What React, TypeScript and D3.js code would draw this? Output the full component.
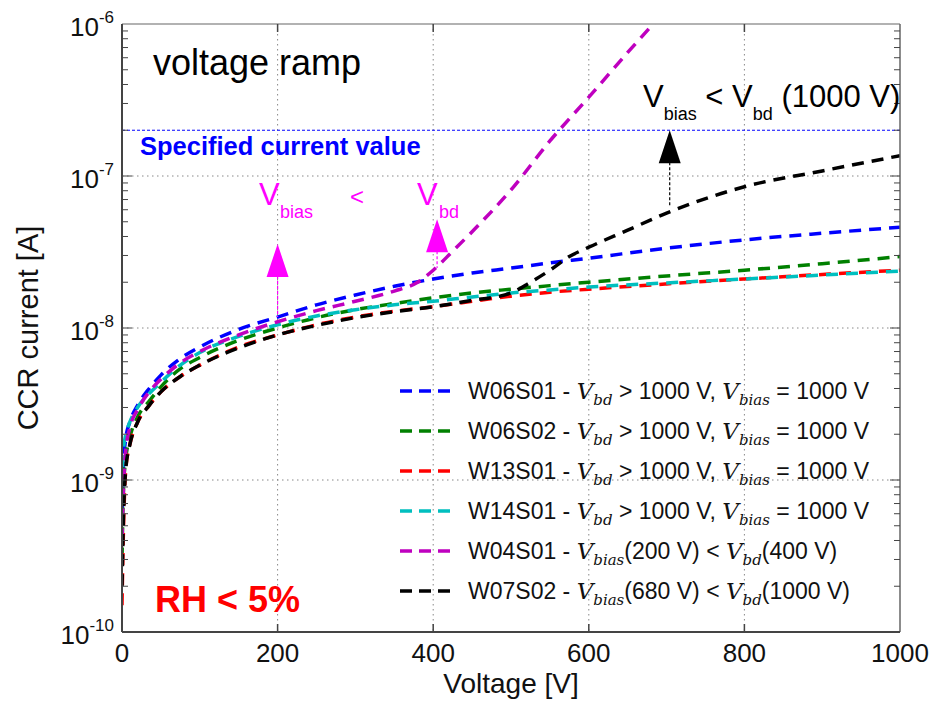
import React, { useEffect, useRef } from "react";
import * as d3 from "d3";

// voltage grid shared by the four "no breakdown" samples
const voltage = [0, 2, 5, 10, 20, 35, 50, 75, 100, 150, 200, 250, 300, 350, 400, 450, 500, 550, 600, 700, 800, 900, 1000];

const w06s01 = [6e-10, 1.3e-9, 1.9e-9, 2.4e-9, 3.1e-9, 4.0e-9, 4.9e-9, 6.3e-9, 7.5e-9, 9.8e-9, 1.18e-8, 1.42e-8, 1.65e-8, 1.88e-8, 2.1e-8, 2.3e-8, 2.48e-8, 2.68e-8, 2.88e-8, 3.35e-8, 3.8e-8, 4.2e-8, 4.6e-8];
const w06s02 = [3e-10, 9e-10, 1.4e-9, 1.9e-9, 2.6e-9, 3.3e-9, 4.1e-9, 5.4e-9, 6.4e-9, 8.3e-9, 1.0e-8, 1.17e-8, 1.32e-8, 1.45e-8, 1.58e-8, 1.7e-8, 1.8e-8, 1.9e-8, 2.0e-8, 2.2e-8, 2.4e-8, 2.65e-8, 2.95e-8];
const w13s01 = [1.5e-10, 5e-10, 1.2e-9, 1.7e-9, 2.4e-9, 3.1e-9, 3.8e-9, 4.8e-9, 5.7e-9, 7.5e-9, 9.0e-9, 1.05e-8, 1.18e-8, 1.29e-8, 1.38e-8, 1.5e-8, 1.62e-8, 1.72e-8, 1.8e-8, 1.95e-8, 2.1e-8, 2.25e-8, 2.4e-8];
const w14s01 = [9e-10, 1.6e-9, 2.0e-9, 2.4e-9, 3.0e-9, 3.7e-9, 4.4e-9, 5.7e-9, 6.9e-9, 8.8e-9, 1.05e-8, 1.2e-8, 1.32e-8, 1.42e-8, 1.5e-8, 1.6e-8, 1.7e-8, 1.78e-8, 1.86e-8, 1.98e-8, 2.1e-8, 2.23e-8, 2.37e-8];

const voltageW04S01 = [0, 2, 5, 10, 20, 35, 50, 75, 100, 150, 200, 250, 300, 350, 380, 400, 425, 450, 500, 550, 600, 650, 700];
const w04s01 = [4e-10, 9e-10, 1.6e-9, 2.2e-9, 2.9e-9, 3.8e-9, 4.6e-9, 5.9e-9, 7.0e-9, 9.0e-9, 1.1e-8, 1.3e-8, 1.5e-8, 1.75e-8, 2.0e-8, 2.4e-8, 3.2e-8, 4.3e-8, 8.1e-8, 1.7e-7, 3.3e-7, 6.5e-7, 1.25e-6];

const voltageW07S02 = [0, 2, 5, 10, 20, 35, 50, 75, 100, 150, 200, 250, 300, 350, 400, 450, 500, 525, 550, 575, 600, 650, 700, 800, 900, 1000];
const w07s02 = [2e-10, 6e-10, 1.2e-9, 1.7e-9, 2.4e-9, 3.1e-9, 3.8e-9, 4.8e-9, 5.7e-9, 7.4e-9, 9.0e-9, 1.04e-8, 1.17e-8, 1.28e-8, 1.38e-8, 1.52e-8, 1.7e-8, 2.0e-8, 2.4e-8, 2.95e-8, 3.4e-8, 4.4e-8, 5.7e-8, 8.5e-8, 1.08e-7, 1.36e-7];

const xTicks = [0, 200, 400, 600, 800, 1000];
const yExponents = [-6, -7, -8, -9, -10];
const specifiedCurrent = 2e-7;

// legend pieces: [text, kind] kind: n = normal, v = math V, s = subscript
const legendRows = [
  { name: "W06S01", color: "#0000ff", parts: [["W06S01 - ", "n"], ["V", "v"], ["bd", "s"], [" > 1000 V, ", "n"], ["V", "v"], ["bias", "s"], [" = 1000 V", "n"]] },
  { name: "W06S02", color: "#008000", parts: [["W06S02 - ", "n"], ["V", "v"], ["bd", "s"], [" > 1000 V, ", "n"], ["V", "v"], ["bias", "s"], [" = 1000 V", "n"]] },
  { name: "W13S01", color: "#ff0000", parts: [["W13S01 - ", "n"], ["V", "v"], ["bd", "s"], [" > 1000 V, ", "n"], ["V", "v"], ["bias", "s"], [" = 1000 V", "n"]] },
  { name: "W14S01", color: "#00bfbf", parts: [["W14S01 - ", "n"], ["V", "v"], ["bd", "s"], [" > 1000 V, ", "n"], ["V", "v"], ["bias", "s"], [" = 1000 V", "n"]] },
  { name: "W04S01", color: "#bf00bf", parts: [["W04S01 - ", "n"], ["V", "v"], ["bias", "s"], ["(200 V) < ", "n"], ["V", "v"], ["bd", "s"], ["(400 V)", "n"]] },
  { name: "W07S02", color: "#000000", parts: [["W07S02 - ", "n"], ["V", "v"], ["bias", "s"], ["(680 V) < ", "n"], ["V", "v"], ["bd", "s"], ["(1000 V)", "n"]] },
];

const seriesData = [
  { v: voltage, i: w06s01, color: "#0000ff" },
  { v: voltage, i: w06s02, color: "#008000" },
  { v: voltage, i: w13s01, color: "#ff0000" },
  { v: voltage, i: w14s01, color: "#00bfbf" },
  { v: voltageW04S01, i: w04s01, color: "#bf00bf" },
  { v: voltageW07S02, i: w07s02, color: "#000000" },
];

// arrows: voltage, current at tip, current where the dashed stem ends
const arrows = [
  { v: 200, tip: 3.57e-8, stemEnd: 1.18e-8, color: "#ff00ff" },
  { v: 405, tip: 5.2e-8, stemEnd: 2.48e-8, color: "#ff00ff" },
  { v: 704, tip: 2e-7, stemEnd: 6.25e-8, color: "#000000" },
];

const FONT = "'Liberation Sans', Arial, Helvetica, sans-serif";
const MATH = "'DejaVu Serif', 'Liberation Serif', serif";

function App() {
  const ref = useRef<SVGSVGElement | null>(null);

  useEffect(() => {
    drawChart();
  }, []);

  const drawChart = () => {
    const W = 933, H = 702;
    const left = 122, right = 900, top = 24, bottom = 632;

    const svg = d3.select(ref.current);
    svg.selectAll("*").remove();

    const x = d3.scaleLinear().domain([0, 1000]).range([left, right]);
    const y = d3.scaleLog().domain([1e-10, 1e-6]).range([bottom, top]);

    svg.append("rect").attr("width", W).attr("height", H).attr("fill", "#fff");

    svg.append("clipPath").attr("id", "plotclip")
      .append("rect").attr("x", left).attr("y", top).attr("width", right - left).attr("height", bottom - top);

    // grid
    const grid = svg.append("g").attr("stroke", "#888").attr("stroke-width", 1).attr("stroke-dasharray", "1.5,3.5");
    xTicks.slice(1, -1).forEach((t) => {
      grid.append("line").attr("x1", x(t)).attr("x2", x(t)).attr("y1", top).attr("y2", bottom);
    });
    yExponents.slice(1, -1).forEach((e) => {
      grid.append("line").attr("x1", left).attr("x2", right).attr("y1", y(Math.pow(10, e))).attr("y2", y(Math.pow(10, e)));
    });

    // specified current line
    svg.append("line")
      .attr("x1", left).attr("x2", right)
      .attr("y1", y(specifiedCurrent)).attr("y2", y(specifiedCurrent))
      .attr("stroke", "#0000ff").attr("stroke-width", 1).attr("stroke-dasharray", "3,2");

    // curves
    const line = d3.line<[number, number]>()
      .x((d) => x(d[0]))
      .y((d) => y(d[1]))
      .curve(d3.curveMonotoneX);

    const curves = svg.append("g").attr("clip-path", "url(#plotclip)");
    seriesData.forEach((s) => {
      const pts = s.v.map((v, k) => [v, s.i[k]] as [number, number]);
      curves.append("path")
        .attr("d", line(pts))
        .attr("fill", "none")
        .attr("stroke", s.color)
        .attr("stroke-width", 3.5)
        .attr("stroke-dasharray", "12,8");
    });

    // arrows
    arrows.forEach((a) => {
      const ax = x(a.v);
      const ty = y(a.tip);
      svg.append("line")
        .attr("x1", ax).attr("x2", ax)
        .attr("y1", ty + 32).attr("y2", y(a.stemEnd))
        .attr("stroke", a.color).attr("stroke-width", 1.2).attr("stroke-dasharray", "3,2");
      svg.append("path")
        .attr("d", `M${ax},${ty} L${ax - 11},${ty + 33} L${ax + 11},${ty + 33} Z`)
        .attr("fill", a.color);
    });

    // frame & ticks
    const axis = svg.append("g").attr("stroke", "#444").attr("stroke-width", 1.5);
    axis.append("line").attr("x1", left).attr("x2", right).attr("y1", top).attr("y2", top).attr("stroke", "#999");
    axis.append("line").attr("x1", right).attr("x2", right).attr("y1", top).attr("y2", bottom).attr("stroke", "#666");
    axis.append("line").attr("x1", left).attr("x2", left).attr("y1", top).attr("y2", bottom).attr("stroke-width", 2);
    axis.append("line").attr("x1", left).attr("x2", right).attr("y1", bottom).attr("y2", bottom).attr("stroke-width", 2);
    xTicks.slice(1, -1).forEach((t) => {
      axis.append("line").attr("x1", x(t)).attr("x2", x(t)).attr("y1", bottom).attr("y2", bottom - 8);
      axis.append("line").attr("x1", x(t)).attr("x2", x(t)).attr("y1", top).attr("y2", top + 8);
    });
    for (let e = -10; e < -6; e++) {
      for (let m = 1; m < 10; m++) {
        const v = m * Math.pow(10, e);
        const len = m === 1 ? 10 : 6;
        axis.append("line").attr("x1", left).attr("x2", left + len).attr("y1", y(v)).attr("y2", y(v)).attr("stroke-width", 1);
        axis.append("line").attr("x1", right).attr("x2", right - len).attr("y1", y(v)).attr("y2", y(v)).attr("stroke-width", 1);
      }
    }

    // tick labels
    xTicks.forEach((t) => {
      svg.append("text").attr("x", x(t)).attr("y", 662)
        .attr("text-anchor", "middle").attr("font-family", FONT).attr("font-size", 26).attr("fill", "#111")
        .text(t);
    });
    yExponents.forEach((e) => {
      const t = svg.append("text").attr("x", 114).attr("y", y(Math.pow(10, e)) + 12)
        .attr("text-anchor", "end").attr("font-family", FONT).attr("font-size", 26).attr("fill", "#111");
      t.append("tspan").text("10");
      t.append("tspan").attr("dy", -13).attr("font-size", 17).text(String(e));
    });

    // axis titles
    svg.append("text").attr("x", (left + right) / 2).attr("y", 693)
      .attr("text-anchor", "middle").attr("font-family", FONT).attr("font-size", 28).attr("fill", "#111")
      .text("Voltage [V]");
    svg.append("text")
      .attr("transform", `translate(38,${(top + bottom) / 2}) rotate(-90)`)
      .attr("text-anchor", "middle").attr("font-family", FONT).attr("font-size", 29).attr("fill", "#111")
      .text("CCR current [A]");

    // annotations
    svg.append("text").attr("x", 153).attr("y", 75).attr("font-family", FONT).attr("font-size", 36).attr("fill", "#000")
      .text("voltage ramp");
    svg.append("text").attr("x", 140).attr("y", 155).attr("font-family", FONT).attr("font-size", 25.5)
      .attr("font-weight", "bold").attr("fill", "#0000ff")
      .text("Specified current value");
    svg.append("text").attr("x", 155).attr("y", 612).attr("font-family", FONT).attr("font-size", 36)
      .attr("font-weight", "bold").attr("fill", "#ff0000")
      .text("RH < 5%");

    const mag = svg.append("g").attr("font-family", FONT).attr("fill", "#ff00ff");
    mag.append("text").attr("x", 259).attr("y", 205).attr("font-size", 31).text("V");
    mag.append("text").attr("x", 280).attr("y", 218).attr("font-size", 18).text("bias");
    mag.append("text").attr("x", 350).attr("y", 205).attr("font-size", 24).text("<");
    mag.append("text").attr("x", 417).attr("y", 205).attr("font-size", 31).text("V");
    mag.append("text").attr("x", 439).attr("y", 218).attr("font-size", 18).text("bd");

    const blk = svg.append("text").attr("x", 643).attr("y", 107).attr("font-family", FONT).attr("font-size", 31).attr("fill", "#000");
    blk.append("tspan").text("V");
    blk.append("tspan").attr("dy", 13).attr("font-size", 18).text("bias");
    blk.append("tspan").attr("dy", -13).text(" < V");
    blk.append("tspan").attr("dy", 13).attr("font-size", 18).text("bd");
    blk.append("tspan").attr("dy", -13).text(" (1000 V)");

    // legend
    legendRows.forEach((row, k) => {
      const cy = 391 + k * 40;
      svg.append("line").attr("x1", 400).attr("x2", 450).attr("y1", cy).attr("y2", cy)
        .attr("stroke", row.color).attr("stroke-width", 3.5).attr("stroke-dasharray", "12,7");
      const t = svg.append("text").attr("x", 468).attr("y", cy + 8)
        .attr("font-family", FONT).attr("font-size", 23).attr("fill", "#111");
      let shifted = false;
      row.parts.forEach(([txt, kind]) => {
        const ts = t.append("tspan").text(txt);
        if (kind === "v") {
          ts.attr("font-family", MATH).attr("font-style", "italic");
          if (shifted) { ts.attr("dy", -6); shifted = false; }
        } else if (kind === "s") {
          ts.attr("font-family", MATH).attr("font-style", "italic").attr("font-size", 15).attr("dy", 6);
          shifted = true;
        } else if (shifted) {
          ts.attr("dy", -6);
          shifted = false;
        }
      });
    });
  };

  return (
    <svg ref={ref} width={933} height={702} style={{ position: "absolute", left: 0, top: 0 }} />
  );
}

export default App;
